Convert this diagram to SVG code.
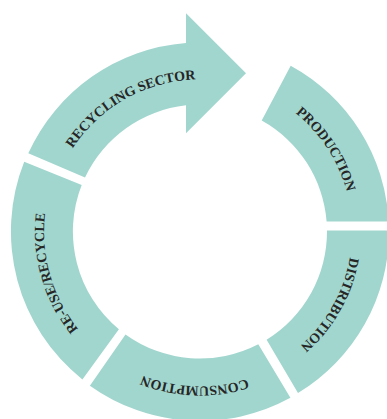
<svg xmlns="http://www.w3.org/2000/svg" xmlns:xlink="http://www.w3.org/1999/xlink" width="387" height="419" viewBox="0 0 387 419">
<style>
.seg{fill:#a1d6ce;stroke:none}
.lbl{font-family:"Liberation Serif","Times New Roman",serif;font-weight:bold;font-size:14px;fill:#262626;letter-spacing:0px}
</style>
<defs>
<path id="tp-rec" d="M48.0,229.6 A152,152 0 0 1 277.6,100.8"/>
<path id="tp-pro" d="M191.8,79.7 A152,152 0 0 1 335.6,300.3"/>
<path id="tp-dis" d="M330.7,153.9 A152,152 0 0 1 201.9,383.5"/>
<path id="tp-con" d="M331.4,313.6 A155,155 0 0 1 63.2,304.3"/>
<path id="tp-reu" d="M162.3,382.9 A156,156 0 0 1 87.8,123.1"/>
</defs>
<rect width="387" height="419" fill="#ffffff"/>
<g id="connectors"></g>
<g id="recycling-sector">
<path class="seg" d="M28.3,153.3 A189,189 0 0 1 186,43 L186,13.3 L246,73.3 L186,133.3 L186,105.3 A127,127 0 0 0 85,177.4 Z"/>
<text class="lbl"><textPath xlink:href="#tp-rec" href="#tp-rec" startOffset="50%" text-anchor="middle">RECYCLING SECTOR</textPath></text>
</g>
<g id="production">
<path class="seg" d="M290.7,65.7 A189,189 0 0 1 388.7,221.5 L326.6,221.5 A127,127 0 0 0 261.7,120.5 Z"/>
<text class="lbl"><textPath xlink:href="#tp-pro" href="#tp-pro" startOffset="50%" text-anchor="middle">PRODUCTION</textPath></text>
</g>
<g id="distribution">
<path class="seg" d="M389,230.5 A189,189 0 0 1 298,393.1 L266.6,339.7 A127,127 0 0 0 327,230.5 Z"/>
<text class="lbl"><textPath xlink:href="#tp-dis" href="#tp-dis" startOffset="50%" text-anchor="middle">DISTRIBUTION</textPath></text>
</g>
<g id="consumption">
<path class="seg" d="M290.4,397.8 A189,189 0 0 1 89.9,385.7 L125.5,334.4 A127,127 0 0 0 258.3,344.3 Z"/>
<text class="lbl"><textPath xlink:href="#tp-con" href="#tp-con" startOffset="50%" text-anchor="middle">CONSUMPTION</textPath></text>
</g>
<g id="reuse-recycle">
<path class="seg" d="M82.4,379.4 A189,189 0 0 1 24.2,161.8 L81.7,185 A127,127 0 0 0 118.9,329.3 Z"/>
<text class="lbl"><textPath xlink:href="#tp-reu" href="#tp-reu" startOffset="50%" text-anchor="middle">RE-USE/RECYCLE</textPath></text>
</g>
</svg>
